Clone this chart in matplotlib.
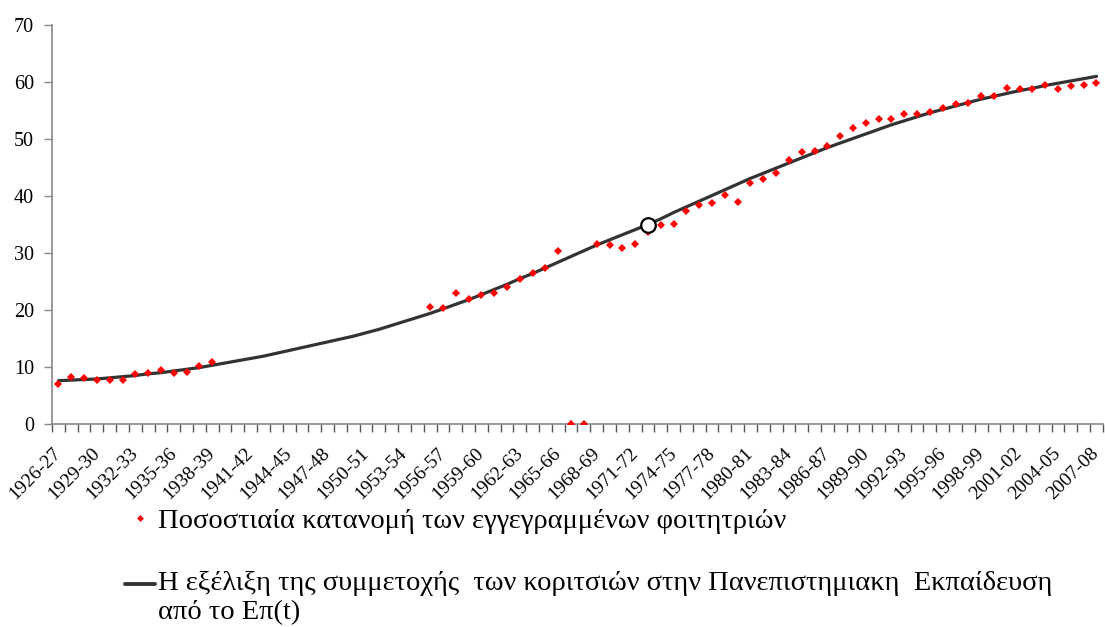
import numpy as np
import matplotlib
matplotlib.use("Agg")
import matplotlib.pyplot as plt
from matplotlib.legend_handler import HandlerLine2D

plt.rcParams['font.family'] = ['Liberation Serif', 'DejaVu Serif']

years = [f"{y}-{(y + 1) % 100:02d}" for y in range(1926, 2008)]

# percentage of registered female students (NaN = no data)
share = [7.1, 8.2, 8.1, 7.8, 7.7, 7.7, 8.7, 9.0, 9.4, 8.9, 9.2, 10.2, 10.9,
         np.nan, np.nan, np.nan, np.nan, np.nan, np.nan, np.nan, np.nan,
         np.nan, np.nan, np.nan, np.nan, np.nan, np.nan, np.nan, np.nan,
         20.6, 20.4, 22.9, 22.0, 22.6, 22.9, 24.0, 25.5, 26.5, 27.3, 30.4,
         0.0, 0.0, 31.6, 31.4, 30.9, 31.6, 33.7, 34.9, 35.1, 37.4, 38.5,
         38.7, 40.1, 39.0, 42.3, 43.0, 44.0, 46.4, 47.7, 47.9, 48.7, 50.5,
         51.9, 52.8, 53.5, 53.6, 54.4, 54.4, 54.8, 55.4, 56.1, 56.3, 57.5,
         57.5, 58.9, 58.8, 58.8, 59.5, 58.8, 59.3, 59.4, 59.8]

# fitted curve Ep(t)
curve = [7.6, 7.7, 7.8, 7.9, 8.1, 8.3, 8.5, 8.8, 9.0, 9.3, 9.6, 9.9, 10.3,
         10.7, 11.1, 11.5, 11.9, 12.4, 12.9, 13.4, 13.9, 14.4, 14.9, 15.4,
         16.0, 16.6, 17.3, 18.0, 18.7, 19.4, 20.2, 21.0, 21.8, 22.7, 23.6,
         24.5, 25.5, 26.4, 27.4, 28.4, 29.4, 30.4, 31.4, 32.3, 33.2, 34.1,
         35.0, 36.0, 37.1, 38.1, 39.1, 40.1, 41.1, 42.1, 43.1, 44.0, 44.9,
         45.8, 46.7, 47.6, 48.5, 49.3, 50.1, 50.9, 51.7, 52.5, 53.2, 53.9,
         54.6, 55.2, 55.8, 56.4, 57.0, 57.5, 58.0, 58.5, 58.9, 59.4, 59.8,
         60.2, 60.6, 61.0]

highlight_year = "1972-73"
highlight_value = 35.0

x = np.arange(len(years))


class FirstLineHandler(HandlerLine2D):
    """Place the legend line level with the first text line."""
    def __init__(self, shift, **kw):
        super().__init__(**kw)
        self.shift = shift

    def create_artists(self, legend, orig_handle, xdescent, ydescent,
                       width, height, fontsize, trans):
        arts = super().create_artists(legend, orig_handle, xdescent, ydescent,
                                      width, height, fontsize, trans)
        for a in arts:
            a.set_ydata(np.asarray(a.get_ydata()) + self.shift)
        return arts


fig = plt.figure(figsize=(11.05, 6.27), dpi=100)
ax = fig.add_axes([0.0471, 0.3238, 0.951, 0.6362])

line, = ax.plot(x, curve, color='#333333', lw=2.3, solid_capstyle='round', zorder=2,
                label="Η εξέλιξη της συμμετοχής  των κοριτσιών στην Πανεπιστημιακη  Εκπαίδευση\nαπό το Επ(t)")
pts, = ax.plot(x, share, linestyle='none', marker='D', markersize=4.2,
               color='#ff0000', markeredgewidth=0, zorder=3,
               label="Ποσοστιαία κατανομή των εγγεγραμμένων φοιτητριών")
hi = years.index(highlight_year)
ax.plot([x[hi]], [highlight_value], marker='o', markersize=10.5,
        markerfacecolor='white', markeredgecolor='black', markeredgewidth=1.6,
        linestyle='none', zorder=4)

ax.set_xlim(-0.5, len(years) - 0.5)
ax.set_ylim(0, 70)
ax.set_yticks(np.arange(0, 71, 10))
ax.set_xticks(x[::3])
ax.set_xticklabels(years[::3], rotation=45, ha='right', va='center',
                   rotation_mode='anchor', fontsize=14)
ax.set_xticks(np.arange(-0.5, len(years), 1), minor=True)
ax.tick_params(axis='x', which='major', length=0, pad=19)
ax.tick_params(axis='x', which='minor', length=6, width=1, color='#555555', direction='out')
ax.tick_params(axis='y', length=6, width=1, color='#888888', labelsize=14.5, pad=7)

for s in ['top', 'right']:
    ax.spines[s].set_visible(False)
ax.spines['left'].set_color('#888888')
ax.spines['bottom'].set_color('#888888')
ax.spines['left'].set_linewidth(1.2)
ax.spines['bottom'].set_linewidth(1.2)

leg = fig.legend(handles=[pts, line], loc='upper left',
                 bbox_to_anchor=(0.113, 0.19), frameon=False,
                 fontsize=20.5, handlelength=1.05, handletextpad=0.12,
                 labelspacing=1.3, borderaxespad=0, borderpad=0,
                 handler_map={line: FirstLineHandler(shift=10)})
for t in leg.get_texts():
    t.set_linespacing(1.25)
leg.legend_handles[0].set_markersize(3.5)
leg.legend_handles[1].set_linewidth(2.8)

fig.savefig('out.png', dpi=100)
